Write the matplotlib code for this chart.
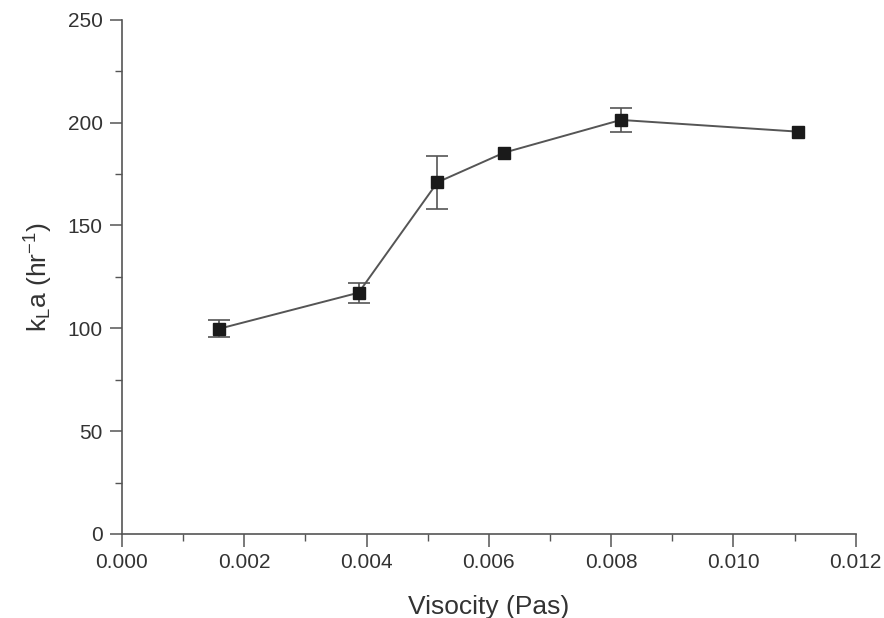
import matplotlib
matplotlib.use("Agg")
import matplotlib.pyplot as plt
from matplotlib.ticker import MultipleLocator, FormatStrFormatter

plt.rcParams["font.family"] = ["Liberation Sans", "DejaVu Sans"]
plt.rcParams["mathtext.default"] = "regular"

# 数据
viscosity = [0.00158, 0.00387, 0.00516, 0.00625, 0.00816, 0.01106]
kla = [99.7, 117.3, 171.0, 185.4, 201.3, 195.6]
kla_err = [4.1, 4.9, 13.0, 0.0, 5.7, 0.0]

fig = plt.figure(figsize=(8.84, 6.18), dpi=100)
ax = fig.add_axes([0.138, 0.136, 0.83, 0.832])

# 只给有误差的点画误差棒
ex = [x for x, e in zip(viscosity, kla_err) if e > 0]
ey = [y for y, e in zip(kla, kla_err) if e > 0]
ee = [e for e in kla_err if e > 0]
ax.errorbar(ex, ey, yerr=ee, fmt="none", ecolor="#555555",
            elinewidth=1.2, capsize=8, capthick=1.2, zorder=2)
ax.plot(viscosity, kla, "s-", color="#555555", mfc="#1a1a1a", mec="#1a1a1a",
        ms=8, lw=1.4, zorder=3)

ax.set_xlim(0, 0.012)
ax.set_ylim(0, 250)
ax.xaxis.set_major_locator(MultipleLocator(0.002))
ax.xaxis.set_minor_locator(MultipleLocator(0.001))
ax.yaxis.set_major_locator(MultipleLocator(50))
ax.yaxis.set_minor_locator(MultipleLocator(25))
ax.xaxis.set_major_formatter(FormatStrFormatter("%.3f"))

for s in ["top", "right"]:
    ax.spines[s].set_visible(False)
for s in ["left", "bottom"]:
    ax.spines[s].set_color("#555555")
    ax.spines[s].set_linewidth(1.2)

ax.tick_params(which="major", length=9, width=1.1, color="#555555",
               labelsize=15, labelcolor="#333333", pad=5)
ax.tick_params(which="minor", length=5, width=1.0, color="#555555")

ax.set_xlabel("Visocity (Pas)", fontsize=19, color="#333333", labelpad=16)
ax.set_ylabel("k$_L$a (hr$^{-1}$)", fontsize=19, color="#333333", labelpad=9)

fig.savefig("out.png", dpi=100, facecolor="white")
